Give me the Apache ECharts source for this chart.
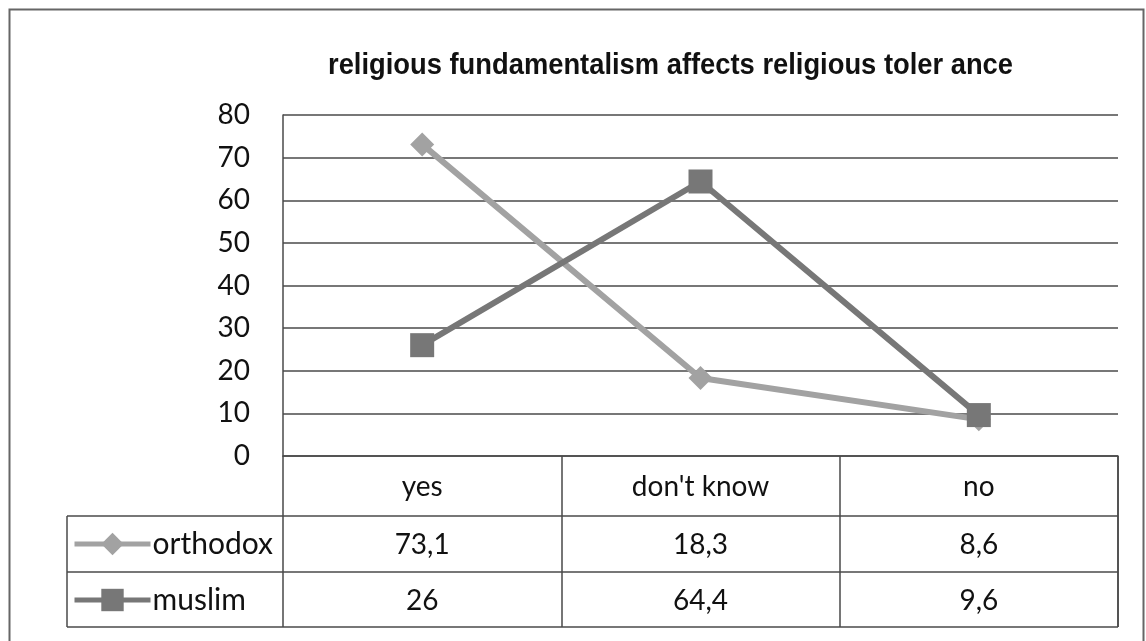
<!DOCTYPE html>
<html>
<head>
<meta charset="utf-8">
<script src="https://cdn.jsdelivr.net/npm/echarts@6/dist/echarts.min.js"></script>
<style>
  html, body { margin: 0; padding: 0; background: #fff; }
  #chart { width: 1146px; height: 641px; }
</style>
</head>
<body>
<div id="chart"></div>
<script>
// Survey answers and shares (%) per group
const categories = ['yes', "don't know", 'no'];
const orthodox = [73.1, 18.3, 8.6];
const muslim = [26, 64.4, 9.6];
const seriesNames = ['orthodox', 'muslim'];
const yTicks = { min: 0, max: 80, interval: 10 };
const titleText = 'religious fundamentalism affects religious toler ance';

const FONT = 'Lato, "Open Sans", sans-serif';
const TITLE_FONT = 'bold 30px "Liberation Sans", Arial, sans-serif';
const FS = 28;
const GRID_COLOR = '#4a4a4a';
const ORTHO_COLOR = '#a2a2a2';
const MUSLIM_COLOR = '#777777';

// decimal comma, as printed in the data table
const fmt = v => String(v).replace('.', ',');

const grid = { left: 283, right: 28, top: 115, bottom: 185 };
const gridBottomY = 641 - grid.bottom;          // y of the 0 line
const rowTop = [gridBottomY + 60, gridBottomY + 116, gridBottomY + 171];
const tableLeft = 67;
const tableRight = 1146 - grid.right;

// the title is set in a condensed bold face: squeeze a regular bold to its width
const titleLeft = 328, titleWidth = 685;
const ctx = document.createElement('canvas').getContext('2d');
ctx.font = TITLE_FONT;
const titleScale = titleWidth / ctx.measureText(titleText).width;

const chart = echarts.init(document.getElementById('chart'), null, { renderer: 'canvas' });

function tableAxis(values, margin) {
  return {
    type: 'category',
    data: categories,
    position: 'bottom',
    offset: 0,
    boundaryGap: true,
    axisLine: { show: false },
    axisTick: { show: false },
    splitLine: { show: false },
    axisLabel: {
      margin: margin,
      fontFamily: FONT,
      fontSize: FS,
      lineHeight: FS,
      color: '#111',
      formatter: (v, i) => fmt(values[i])
    }
  };
}

chart.setOption({
  backgroundColor: '#fff',
  animation: false,
  legend: {
    orient: 'vertical',
    left: 72,
    top: rowTop[0] + 28 - 15,
    padding: 0,
    itemWidth: 76,
    itemHeight: 28,
    itemGap: 26,
    lineStyle: { width: 5 },
    textStyle: { fontFamily: FONT, fontSize: 30, lineHeight: 30, color: '#111', padding: [0, 0, 0, -3] },
    data: seriesNames
  },
  grid: grid,
  xAxis: [
    {
      type: 'category',
      data: categories,
      position: 'bottom',
      offset: 0,
      boundaryGap: true,
      axisLine: { show: true, lineStyle: { color: GRID_COLOR, width: 1.5 } },
      axisTick: { show: true, inside: false, length: 171, lineStyle: { color: GRID_COLOR, width: 1.5 } },
      axisLabel: { margin: 17, fontFamily: FONT, fontSize: FS, lineHeight: FS, color: '#111' }
    },
    tableAxis(orthodox, 75),
    tableAxis(muslim, 131)
  ],
  yAxis: {
    type: 'value',
    min: yTicks.min,
    max: yTicks.max,
    interval: yTicks.interval,
    axisLine: { show: true, lineStyle: { color: GRID_COLOR, width: 1.5 } },
    axisTick: { show: false },
    splitLine: { show: true, lineStyle: { color: GRID_COLOR, width: 1.5 } },
    axisLabel: { margin: 33, fontFamily: FONT, fontSize: FS, color: '#111' }
  },
  series: [
    {
      name: seriesNames[0],
      type: 'line',
      data: orthodox,
      symbol: 'diamond',
      symbolSize: 24,
      lineStyle: { color: ORTHO_COLOR, width: 6 },
      itemStyle: { color: ORTHO_COLOR },
      z: 3
    },
    {
      name: seriesNames[1],
      type: 'line',
      data: muslim,
      symbol: 'rect',
      symbolSize: 24,
      lineStyle: { color: MUSLIM_COLOR, width: 6 },
      itemStyle: { color: MUSLIM_COLOR },
      z: 4
    }
  ],
  graphic: [
    // chart title
    { type: 'text', x: titleLeft, y: 66, scaleX: titleScale, silent: true,
      style: { text: titleText, x: 0, y: 0, font: TITLE_FONT, fill: '#111',
               textAlign: 'left', textVerticalAlign: 'middle' } },
    // outer frame
    { type: 'rect', shape: { x: 9.5, y: 9.5, width: 1134, height: 640 },
      style: { fill: null, stroke: '#666', lineWidth: 2 }, silent: true },
    // data table rules
    ...rowTop.map(y => ({
      type: 'line', shape: { x1: tableLeft, y1: y, x2: tableRight, y2: y },
      style: { stroke: GRID_COLOR, lineWidth: 1.5 }, silent: true
    })),
    { type: 'line', shape: { x1: tableLeft, y1: rowTop[0], x2: tableLeft, y2: rowTop[2] },
      style: { stroke: GRID_COLOR, lineWidth: 1.5 }, silent: true },
    { type: 'line', shape: { x1: tableRight, y1: gridBottomY, x2: tableRight, y2: rowTop[2] },
      style: { stroke: GRID_COLOR, lineWidth: 1.5 }, silent: true }
  ]
});
</script>
</body>
</html>
